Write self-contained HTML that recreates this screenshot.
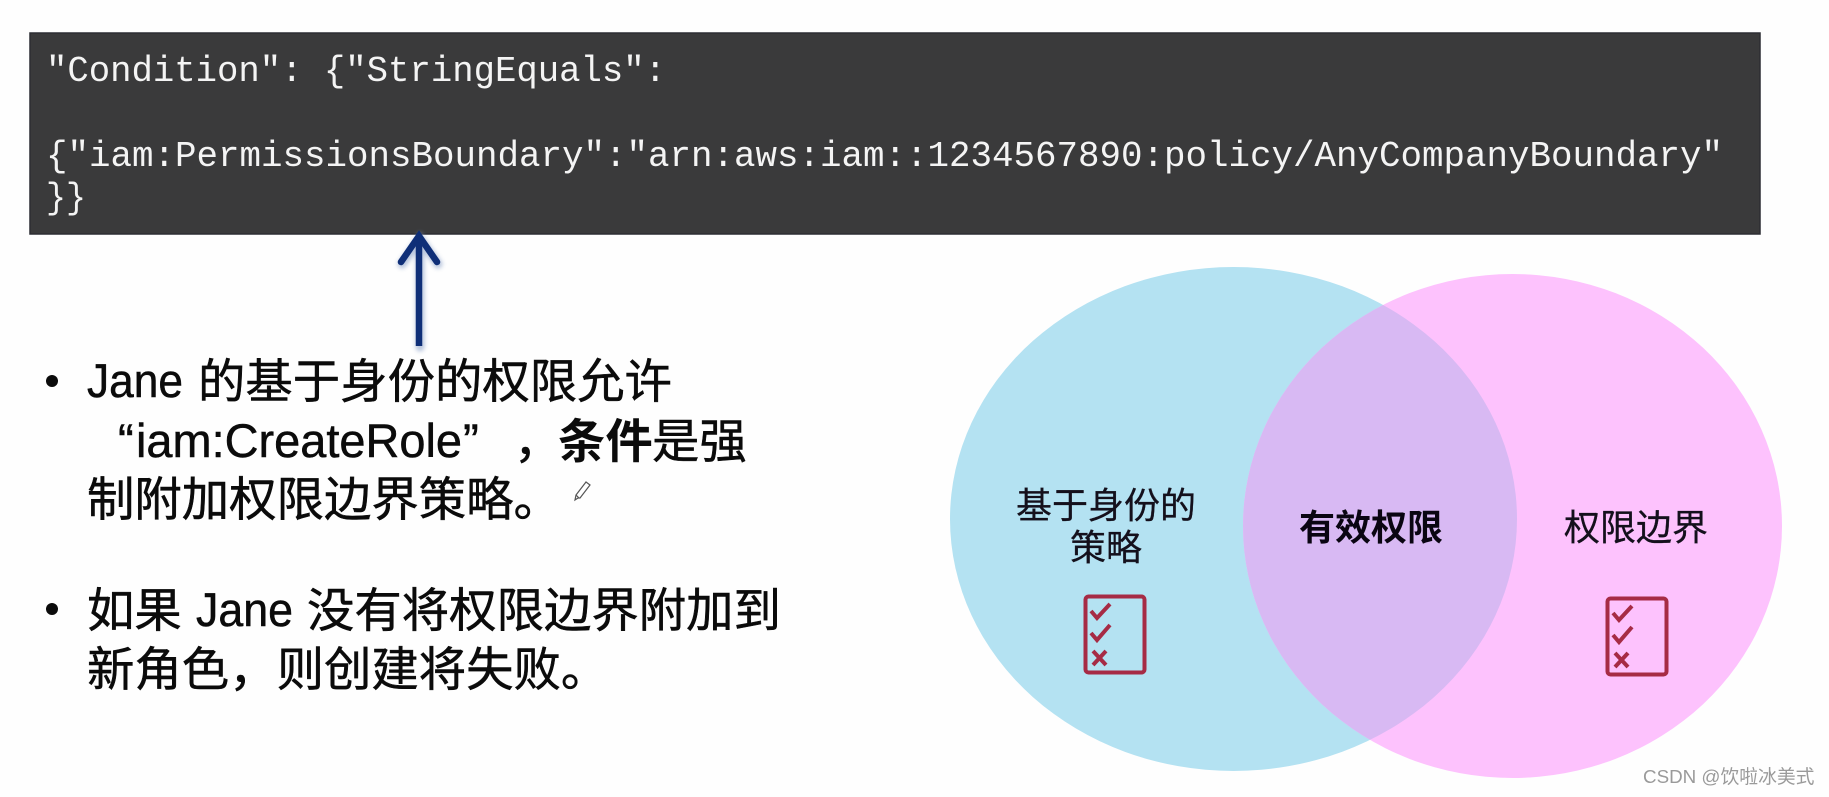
<!DOCTYPE html>
<html lang="zh">
<head>
<meta charset="utf-8">
<title>Permissions boundary</title>
<style>
html,body{margin:0;padding:0;width:1829px;height:797px;overflow:hidden;background:#fefefe}
svg{display:block}
.mono{font-family:"Liberation Mono","DejaVu Sans Mono",monospace;font-size:36px;fill:#f4f4f4}
.cjk{font-family:"Liberation Sans","Noto Sans CJK SC",sans-serif;font-size:47.4px;font-weight:400;fill:#0b0b0b;stroke:#0b0b0b;stroke-width:.5px}
.lab{font-family:"Liberation Sans","Noto Sans CJK SC",sans-serif;font-size:36px;font-weight:400;fill:#14101c;stroke:#14101c;stroke-width:.3px;text-anchor:middle}
</style>
</head>
<body>
<svg width="1829" height="797" viewBox="0 0 1829 797" xmlns="http://www.w3.org/2000/svg">
<defs>
<clipPath id="c"><ellipse cx="1233.5" cy="519" rx="283.5" ry="252"/></clipPath>
<filter id="s" x="-50%" y="-10%" width="200%" height="120%"><feGaussianBlur stdDeviation="2"/></filter>
<g id="ic" fill="none" stroke="#a62b45">
<rect x="1.5" y="1.5" width="59" height="76" rx="3" stroke-width="4"/>
<path d="M7 16l6 7 13-14M7 38l6 7 13-15" stroke-width="4"/>
<path d="M9 56l13 14M22 56L9 70" stroke-width="4"/>
</g>
</defs>

<rect x="30" y="33" width="1730" height="201" fill="#3a3a3b" stroke="#2c2d33" stroke-width="1.5"/>
<text class="mono" x="46" y="81" textLength="620" lengthAdjust="spacingAndGlyphs">"Condition": {"StringEquals":</text>
<text class="mono" x="46" y="166" textLength="1677" lengthAdjust="spacingAndGlyphs">{"iam:PermissionsBoundary":"arn:aws:iam::1234567890:policy/AnyCompanyBoundary"</text>
<text class="mono" x="46" y="208" textLength="40" lengthAdjust="spacingAndGlyphs">}}</text>

<g fill="none" stroke-linecap="round">
<path d="M419 345V240M401 262l18-25 18 25" stroke="#8aa0c8" stroke-width="9" filter="url(#s)" transform="translate(1 2)" opacity=".6"/>
<path d="M419 346V240" stroke="#0f2f78" stroke-width="6.5" stroke-linecap="butt"/>
<path d="M401 262l18-26 18 26" stroke="#0f2f78" stroke-width="6.5"/>
</g>

<circle cx="52" cy="381" r="6" fill="#0b0b0b"/>
<circle cx="52" cy="609" r="6" fill="#0b0b0b"/>
<text class="cjk" x="87" y="397" textLength="96" lengthAdjust="spacingAndGlyphs">Jane</text>
<text class="cjk" x="198" y="398">的基于身份的权限允许</text>
<text class="cjk" x="118" y="457">“</text>
<text class="cjk" x="136" y="457" textLength="326" lengthAdjust="spacingAndGlyphs">iam:CreateRole</text>
<text class="cjk" x="463" y="457">”</text>
<text class="cjk" x="514" y="458">，</text>
<text class="cjk" x="558" y="458" style="font-weight:700;stroke-width:0">条件</text>
<text class="cjk" x="652" y="458">是强</text>
<text class="cjk" x="87" y="516">制附加权限边界策略。</text>
<text class="cjk" x="87" y="627">如果</text>
<text class="cjk" x="196" y="626" textLength="97" lengthAdjust="spacingAndGlyphs">Jane</text>
<text class="cjk" x="307" y="627">没有将权限边界附加到</text>
<text class="cjk" x="87" y="686">新角色，则创建将失败。</text>

<path d="M578 498l-3 2 1-5 10-13 4 3-10 13zM576 495l3 3" fill="#fff" stroke="#555" stroke-width="1.2"/>

<ellipse cx="1233.5" cy="519" rx="283.5" ry="252" fill="#b4e2f2"/>
<ellipse cx="1512.5" cy="526" rx="269.5" ry="252" fill="#fdc2fd"/>
<ellipse cx="1512.5" cy="526" rx="269.5" ry="252" fill="#d8b9f3" clip-path="url(#c)"/>

<text class="lab" x="1106" y="518">基于身份的</text>
<text class="lab" x="1106" y="560">策略</text>
<text class="lab" x="1371" y="540" style="font-weight:700;stroke-width:0;fill:#0a0512">有效权限</text>
<text class="lab" x="1636" y="540">权限边界</text>

<use href="#ic" x="1084" y="595"/>
<use href="#ic" x="1606" y="597"/>

<text x="1643" y="783" font-family="'Liberation Sans','Noto Sans CJK SC',sans-serif" font-size="18.8" fill="#9a9a9a">CSDN @饮啦冰美式</text>
</svg>
</body>
</html>
